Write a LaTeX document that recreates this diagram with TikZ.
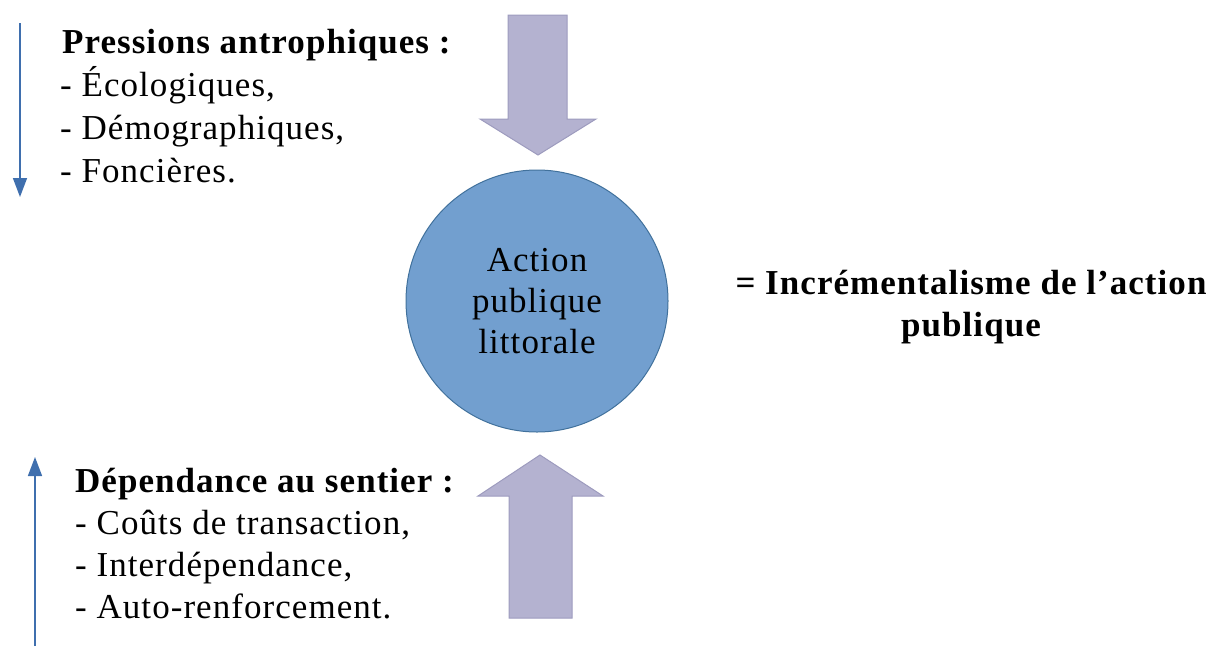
\documentclass[tikz,border=0pt]{standalone}
\usepackage{fontspec}
\setmainfont{Liberation Serif}[LetterSpace=3]
\usetikzlibrary{arrows.meta}

\definecolor{bulle}{HTML}{729FCF}
\definecolor{bullebord}{HTML}{41719C}
\definecolor{fleche}{HTML}{B4B2D0}
\definecolor{flechebord}{HTML}{9D9BBE}
\definecolor{trait}{HTML}{3F6FAE}

\tikzset{
  titre/.style={font=\fontsize{35}{41}\selectfont\bfseries, inner sep=0pt, anchor=base west},
  item/.style={font=\fontsize{35}{41}\selectfont, inner sep=0pt, anchor=base west},
  grosse/.style={fill=fleche, draw=flechebord, line width=1pt},
  fine/.style={draw=trait, line width=1.5pt, -{Triangle[length=19pt,width=14pt]}},
}

\begin{document}
\begin{tikzpicture}[x=1pt,y=-1pt]
  \useasboundingbox (0,0) rectangle (1213,646);
  %% central circle
  \node[circle, fill=bulle, draw=bullebord, line width=1pt, minimum size=262pt,
        inner sep=0pt, align=center, font=\fontsize{35}{41}\selectfont] (action) at (537,301)
        {Action\\publique\\littorale};
  %% big arrows towards the circle
  \draw[grosse] (508,15) -- (567,15) -- (567,119) -- (596,119) -- (538,155)
        -- (480,119) -- (508,119) -- cycle;
  \draw[grosse] (540,455) -- (603,496) -- (572,496) -- (572,618) -- (509,618)
        -- (509,496) -- (478,496) -- cycle;
  %% upper list
  \node[titre] (pression) at (62,53) {Pressions antrophiques :};
  \foreach \t [count=\i] in {{- Écologiques,},{- Démographiques,},{- Foncières.}}
    \node[item] (pression\i) at (60,{53+43*\i}) {\t};
  %% lower list
  \node[titre] (sentier) at (75,492) {Dépendance au sentier :};
  \foreach \t [count=\i] in {{- Coûts de transaction,},{- Interdépendance,},{- Auto-renforcement.}}
    \node[item] (sentier\i) at (75,{492+42*\i}) {\t};
  %% thin arrows
  \coordinate (hautdebut) at (20,23);
  \coordinate (hautfin) at (20,197);
  \coordinate (basdebut) at (35,646);
  \coordinate (basfin) at (35,457);
  \draw[fine] (hautdebut) -- (hautfin);
  \draw[fine] (basdebut) -- (basfin);
  %% conclusion
  \node[align=center, inner sep=0pt, font=\fontsize{35}{42}\selectfont\bfseries] (increment)
        at (971,307) {= Incrémentalisme de l’action\\publique};
\end{tikzpicture}
\end{document}
